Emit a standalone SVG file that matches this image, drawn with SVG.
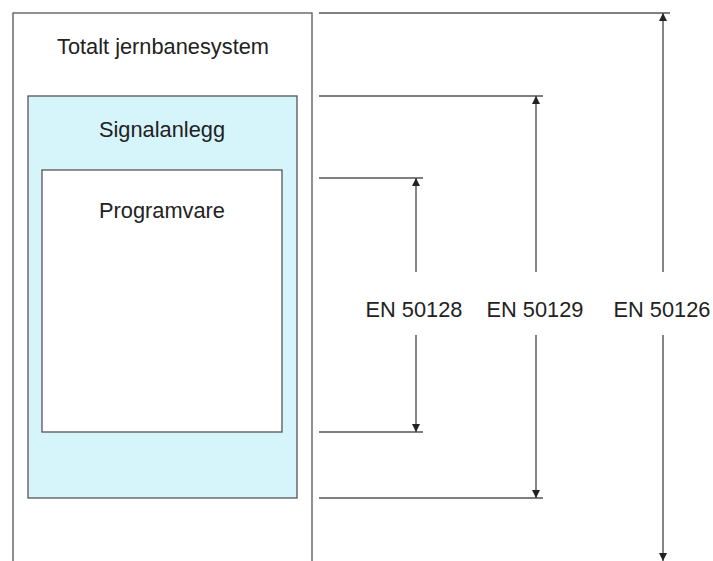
<svg xmlns="http://www.w3.org/2000/svg" width="713" height="561" viewBox="0 0 713 561">
<defs>
<marker id="ah" viewBox="0 0 10 10" refX="10" refY="5" markerWidth="9" markerHeight="8" markerUnits="userSpaceOnUse" orient="auto">
<path d="M0,0 L10,5 L0,10 Z" fill="#222"/>
</marker>
<style>
.box{stroke:#555;stroke-width:1.3}
.t{font-family:"Liberation Sans",Arial,sans-serif;font-size:21.8px;fill:#222;text-anchor:middle}
.c{stroke:#555;stroke-width:1.3;fill:none}
.a{stroke:#444;stroke-width:1.3;fill:none;marker-end:url(#ah)}
</style>
</defs>
<rect width="713" height="561" fill="#fff"/>
<g id="totalt">
<rect class="box" x="13" y="13" width="299" height="570" fill="#fff"/>
<text class="t" x="163" y="54">Totalt jernbanesystem</text>
</g>
<g id="signalanlegg">
<rect class="box" x="28" y="96" width="269" height="402" fill="#d6f5fb"/>
<text class="t" x="162" y="137" fill="#1e3540">Signalanlegg</text>
</g>
<g id="programvare">
<rect class="box" x="42" y="170" width="240" height="262" fill="#fff"/>
<text class="t" x="162" y="218">Programvare</text>
</g>
<g id="connectors">
<line class="c" x1="319" y1="13" x2="670" y2="13"/>
<line class="c" x1="319" y1="96" x2="543" y2="96"/>
<line class="c" x1="319" y1="178" x2="423" y2="178"/>
<line class="c" x1="319" y1="432" x2="423" y2="432"/>
<line class="c" x1="319" y1="498" x2="543" y2="498"/>
<line class="a" x1="416" y1="272" x2="416" y2="178"/>
<line class="a" x1="416" y1="335" x2="416" y2="432"/>
<line class="a" x1="536" y1="272" x2="536" y2="96"/>
<line class="a" x1="536" y1="335" x2="536" y2="498"/>
<line class="a" x1="663" y1="272" x2="663" y2="13"/>
<line class="a" x1="663" y1="335" x2="663" y2="561"/>
</g>
<g id="labels">
<text class="t" x="414" y="317">EN 50128</text>
<text class="t" x="535" y="317">EN 50129</text>
<text class="t" x="662" y="317">EN 50126</text>
</g>
</svg>
